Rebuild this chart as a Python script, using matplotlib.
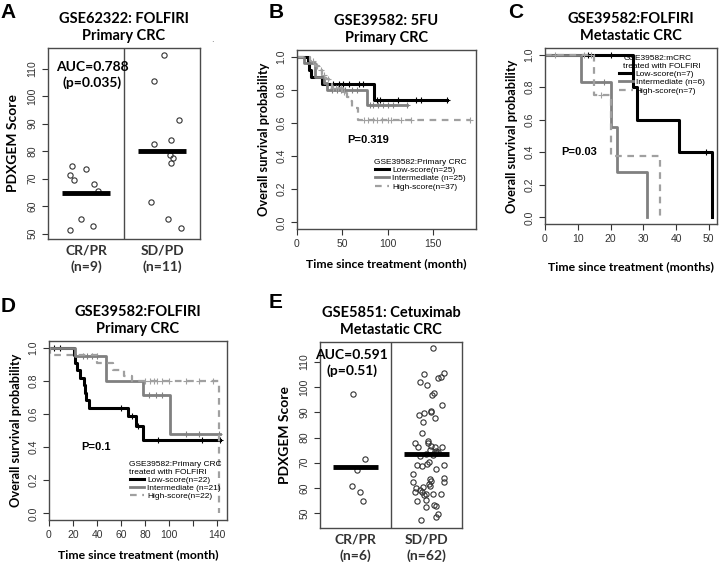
import numpy as np
import matplotlib
matplotlib.use("Agg")
import matplotlib.pyplot as plt
from matplotlib.lines import Line2D

# ---- data ----
# A: GSE62322 FOLFIRI
a_groups = ["CR/PR\n(n=9)", "SD/PD\n(n=11)"]
a_crpr = [74.5, 71.3, 69.5, 73.3, 68.0, 65.6, 55.4, 52.7, 51.1]
a_crpr_jit = [-0.18, -0.21, -0.16, 0.0, 0.105, 0.16, -0.06, 0.09, -0.21]
a_sdpd = [114.9, 105.6, 91.3, 84.2, 82.6, 78.5, 77.3, 75.7, 61.6, 55.3, 52.1]
a_sdpd_jit = [0.02, -0.105, 0.22, 0.12, -0.1, 0.11, 0.145, 0.12, -0.145, 0.08, 0.245]

# E: GSE5851 Cetuximab
e_groups = ["CR/PR\n(n=6)", "SD/PD\n(n=62)"]
e_crpr = [97.3, 71.3, 67.2, 60.8, 58.4, 54.8]
e_crpr_jit = [-0.03, 0.13, 0.02, -0.05, 0.06, 0.10]
e_sdpd = [115.5, 105.3, 105.7, 104.0, 103.5, 102.0, 101.0, 97.7, 96.8, 93.0,
          90.4, 90.2, 89.7, 88.8, 87.7, 86.1, 81.9, 78.6,
          77.7, 76.3, 77.9, 76.7, 76.3, 75.0, 74.6, 74.3, 76.2, 72.7,
          69.0, 68.7, 69.6, 70.3, 67.6, 69.2, 65.6, 63.6, 62.6, 61.6,
          60.7, 63.9, 62.3, 62.3, 59.9, 58.3, 59.0, 58.3, 57.6, 57.0,
          57.6, 57.6, 54.6, 55.0, 53.2, 52.7, 52.3, 49.6, 48.3, 47.0,
          73.5, 73.2, 60.2, 73.8]
e_sdpd_jit = [0.09, -0.04, 0.25, 0.21, 0.16, -0.09, 0.01, 0.11, 0.08, 0.22,
              0.07, 0.06, -0.04, -0.11, 0.12, -0.05, -0.06, 0.02,
              -0.16, -0.12, 0.02, 0.07, 0.12, 0.05, 0.13, 0.16, 0.22, -0.09,
              -0.14, -0.07, 0.01, 0.04, 0.13, 0.25, -0.19, 0.05, 0.06, 0.04,
              0.05, 0.24, 0.24, -0.19, -0.15, -0.16, -0.09, -0.06, -0.01, -0.04,
              0.09, 0.21, -0.13, -0.01, 0.10, 0.14, -0.01, 0.16, 0.14, -0.08,
              0.0, 0.09, -0.05, 0.14]

# B: GSE39582 5FU primary CRC (step times / survival, censor times)
b_low_t = [0, 12, 13, 15, 28, 85, 165]
b_low_s = [1, 0.96, 0.92, 0.88, 0.833, 0.74, 0.74]
b_low_c = [40, 46, 51, 57, 68, 73, 88, 91, 111, 131, 137, 165]
b_int_t = [0, 8, 20, 30, 33, 77, 121]
b_int_s = [1, 0.96, 0.88, 0.84, 0.80, 0.71, 0.71]
b_int_c = [38, 44, 48, 53, 60, 66, 80, 84, 89, 95, 100, 106, 121]
b_high_t = [0, 14, 20, 24, 28, 32, 35, 38, 50, 55, 58, 61, 67, 190]
b_high_s = [1, 0.973, 0.946, 0.919, 0.892, 0.865, 0.838, 0.811, 0.784, 0.757, 0.73, 0.69, 0.62, 0.62]
b_high_c = [18, 22, 26, 30, 34, 40, 43, 45, 48, 52, 74, 78, 84, 88, 94, 100, 104, 114, 126, 190]

# C: GSE39582 FOLFIRI metastatic CRC
c_low_t = [0, 27, 28, 41, 51]
c_low_s = [1, 0.8, 0.6, 0.4, 0]
c_low_c = [13, 20, 49]
c_int_t = [0, 11, 20, 22, 31]
c_int_s = [1, 0.833, 0.556, 0.278, 0]
c_int_c = [18]
c_high_t = [0, 15, 20, 35]
c_high_s = [1, 0.75, 0.375, 0]
c_high_c = [3, 12, 14, 17]

# D: GSE39582 FOLFIRI primary CRC
d_low_t = [0, 21, 22, 23, 26, 29, 30, 31, 33, 66, 72, 78, 142]
d_low_s = [1, 0.955, 0.909, 0.864, 0.818, 0.773, 0.727, 0.682, 0.636, 0.589, 0.53, 0.445, 0.445]
d_low_c = [4, 9, 60, 69, 74, 91, 127, 142]
d_int_t = [0, 22, 47, 78, 101, 142]
d_int_s = [1, 0.952, 0.80, 0.714, 0.476, 0.476]
d_int_c = [28, 32, 36, 40, 83, 89, 94, 114, 125, 141]
d_high_t = [0, 1, 40, 53, 62, 69, 141]
d_high_s = [1, 0.955, 0.909, 0.864, 0.83, 0.80, 0]
d_high_c = [80, 84, 87, 90, 94, 100, 114, 125, 136]

b_labels = ["Low-score(n=25)", "Intermediate (n=25)", "High-score(n=37)"]
c_labels = ["Low-score(n=7)", "Intermediate (n=6)", "High-score(n=7)"]
d_labels = ["Low-score(n=22)", "Intermediate (n=21)", "High-score(n=22)"]

TITLE_FONT = "Lato"
TICK_FONT = "Liberation Sans"
W, H = 720, 562

fig = plt.figure(figsize=(7.2, 5.62), dpi=100)


def px_axes(x0, y0, x1, y1):
    return fig.add_axes([x0 / W, 1 - y1 / H, (x1 - x0) / W, (y1 - y0) / H])


def style_box(ax):
    for sp in ax.spines.values():
        sp.set_color("#4a4a4a")
        sp.set_linewidth(1.0)
    ax.tick_params(direction="out", length=4, width=0.8, colors="#333333",
                   labelsize=7.5)
    for lab in ax.get_yticklabels() + ax.get_xticklabels():
        lab.set_fontfamily(TICK_FONT)


def title(ax, text):
    ax.set_title(text, fontfamily=TITLE_FONT, fontweight="bold", fontsize=10.5,
                 linespacing=1.25, pad=6)


def dot_panel(ax, crpr, crpr_jit, sdpd, sdpd_jit, groups, auc, ylim, auc_xy):
    for g, vals, jit in [(1, crpr, crpr_jit), (2, sdpd, sdpd_jit)]:
        x = g + np.array(jit)
        ax.plot(x, vals, "o", ms=3.8, mfc="none", mec="#333333", mew=0.8)
        m = np.mean(vals)
        ax.plot([g - 0.32, g + 0.32], [m, m], color="black", lw=3.5,
                solid_capstyle="butt")
    ax.axvline(1.5, color="#4a4a4a", lw=1.0)
    ax.set_xlim(0.5, 2.5)
    ax.set_ylim(*ylim)
    ax.set_yticks(range(50, 111, 10))
    ax.set_xticks([1, 2])
    ax.set_xticklabels(groups, fontfamily=TITLE_FONT, fontweight="bold",
                       fontsize=10, linespacing=1.35)
    style_box(ax)
    ax.tick_params(axis="x", length=0, pad=4, labelsize=10)
    for lab in ax.get_xticklabels():
        lab.set_fontfamily(TITLE_FONT)
        lab.set_fontweight("bold")
    plt.setp(ax.get_yticklabels(), rotation=90, va="center")
    ax.set_ylabel("PDXGEM Score", fontfamily=TITLE_FONT, fontweight="bold",
                  fontsize=10, labelpad=6)
    ax.text(auc_xy[0], auc_xy[1], auc, ha="center", va="center",
            fontfamily=TITLE_FONT, fontweight="bold", fontsize=10,
            linespacing=1.3)


def step_val(t, s, c):
    idx = np.searchsorted(t, c, side="right") - 1
    return np.array(s)[idx]


def km_panel(ax, curves, labels, xlim, xticks, xticklabels, leg_title, leg_xy,
             pval, p_xy, xlabel, xpad=6):
    styles = [dict(color="black", lw=2.2, ls="-"),
              dict(color="#808080", lw=2.0, ls="-"),
              dict(color="#a0a0a0", lw=1.6, ls=(0, (3, 2.5)))]
    handles = []
    for (t, s, c), st, lab in zip(curves, styles, labels):
        ax.step(t, s, where="post", **st)
        cy = step_val(t, s, c)
        ax.plot(c, cy, "+", ms=4.5, mew=0.8, color=st["color"], ls="none")
        handles.append(Line2D([0], [0], label=lab, **st))
    ax.set_xlim(*xlim)
    ax.set_ylim(-0.04, 1.04)
    ax.set_yticks(np.arange(0, 1.01, 0.2))
    ax.set_yticklabels([f"{v:.1f}" for v in np.arange(0, 1.01, 0.2)])
    ax.set_xticks(xticks)
    ax.set_xticklabels(xticklabels)
    style_box(ax)
    plt.setp(ax.get_yticklabels(), rotation=90, va="center")
    ax.set_ylabel("Overall survival probability", fontfamily=TITLE_FONT,
                  fontweight="bold", fontsize=9.2, labelpad=5)
    ax.set_xlabel(xlabel, fontfamily=TITLE_FONT, fontweight="bold",
                  fontsize=8.8, labelpad=xpad)
    leg = ax.legend(handles=handles, title=leg_title, loc="upper center",
                    bbox_to_anchor=leg_xy, frameon=False, fontsize=6,
                    title_fontsize=6, handlelength=1.6, handletextpad=0.4,
                    labelspacing=0.05, borderpad=0.1,
                    prop={"family": TICK_FONT, "size": 6})
    leg.get_title().set_fontfamily(TICK_FONT)
    ax.text(p_xy[0], p_xy[1], pval, ha="center", va="center",
            fontfamily=TICK_FONT, fontweight="bold", fontsize=8)


# A
axA = px_axes(48, 48, 200, 239)
dot_panel(axA, a_crpr, a_crpr_jit, a_sdpd, a_sdpd_jit, a_groups,
          "AUC=0.788\n(p=0.035)", (48, 117.5), (1.08, 107.8))
title(axA, "GSE62322: FOLFIRI\nPrimary CRC")

# B
axB = px_axes(297, 50, 476, 229)
km_panel(axB, [(b_low_t, b_low_s, b_low_c), (b_int_t, b_int_s, b_int_c),
               (b_high_t, b_high_s, b_high_c)], b_labels,
         (0, 197), [0, 50, 100, 150], ["0", "50", "100", "150"],
         "GSE39582:Primary CRC", (0.69, 0.42), "P=0.319", (78, 0.5),
         "Time since treatment (month)")
title(axB, "GSE39582: 5FU\nPrimary CRC")

# C
axC = px_axes(545, 48, 717, 224)
km_panel(axC, [(c_low_t, c_low_s, c_low_c), (c_int_t, c_int_s, c_int_c),
               (c_high_t, c_high_s, c_high_c)], c_labels,
         (0, 52.5), [0, 10, 20, 30, 40, 50], ["0", "10", "20", "30", "40", "50"],
         "GSE39582:mCRC\ntreated with FOLFIRI", (0.68, 0.99), "P=0.03",
         (10.5, 0.4), "Time since treatment (months)", xpad=12)
title(axC, "GSE39582:FOLFIRI\nMetastatic CRC")

# D
axD = px_axes(49, 341, 227, 520)
km_panel(axD, [(d_low_t, d_low_s, d_low_c), (d_int_t, d_int_s, d_int_c),
               (d_high_t, d_high_s, d_high_c)], d_labels,
         (0, 148), [0, 20, 40, 60, 80, 100, 120, 140],
         ["0", "20", "40", "60", "80", "100", "", "140"],
         "GSE39582:Primary CRC\ntreated with FOLFIRI", (0.71, 0.36), "P=0.1",
         (39, 0.4), "Time since treatment (month)")
title(axD, "GSE39582:FOLFIRI\nPrimary CRC")

# E
axE = px_axes(320, 342, 462, 528)
dot_panel(axE, e_crpr, e_crpr_jit, e_sdpd, e_sdpd_jit, e_groups,
          "AUC=0.591\n(p=0.51)", (44, 118), (0.95, 109.7))
title(axE, "GSE5851: Cetuximab\nMetastatic CRC")

# panel letters
for letter, x, y in [("A", 8, 12), ("B", 276, 12), ("C", 516, 12),
                     ("D", 8, 306), ("E", 276, 302)]:
    fig.text(x / W, 1 - y / H, letter, fontfamily="Liberation Sans",
             fontweight="bold", fontsize=15, ha="center", va="center")
fig.text(211 / W, 1 - 42 / H, ".", fontsize=6, color="#555555")

fig.savefig("out.png", dpi=100)
